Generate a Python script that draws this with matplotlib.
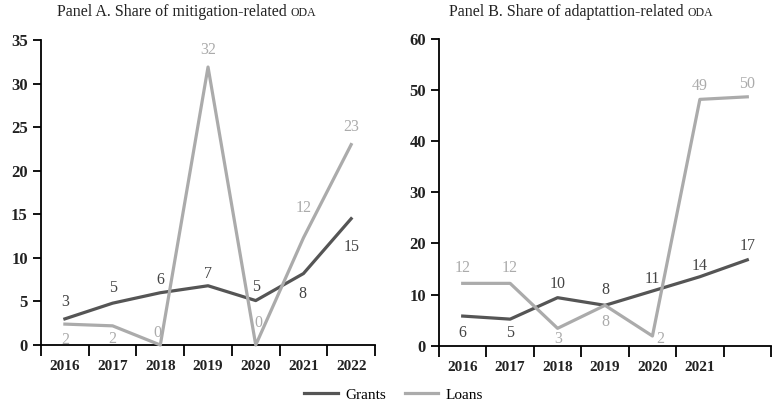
import matplotlib
matplotlib.use("Agg")
import matplotlib.pyplot as plt

plt.rcParams["font.family"] = ["Liberation Serif", "DejaVu Serif"]

years_a = ["2016", "2017", "2018", "2019", "2020", "2021", "2022"]
years_b = ["2016", "2017", "2018", "2019", "2020", "2021", ""]

grants_a = [3.0, 4.8, 6.0, 6.8, 5.1, 8.2, 14.5]
loans_a = [2.4, 2.2, 0.0, 31.9, 0.0, 12.3, 23.0]
grants_a_lbl = ["3", "5", "6", "7", "5", "8", "15"]
loans_a_lbl = ["2", "2", "0", "32", "0", "12", "23"]

grants_b = [5.8, 5.2, 9.4, 7.9, 10.7, 13.5, 16.8]
loans_b = [12.2, 12.2, 3.4, 7.9, 1.9, 48.2, 48.7]
grants_b_lbl = ["6", "5", "10", "8", "11", "14", "17"]
loans_b_lbl = ["12", "12", "3", "8", "2", "49", "50"]

DARK = "#555555"
LIGHT = "#ababab"

# label offsets in pixels (dx, dy)
off_grants_a = [(0, 17), (0, 15), (0, 13), (0, 12), (0, 14), (-1, -20), (0, -28)]
off_loans_a = [(0, -16), (0, -13), (-3, 12), (0, 17), (3, 22), (0, 30), (0, 18)]
off_grants_b = [(0, -17), (0, -14), (0, 14), (0, 15), (0, 12), (0, 11), (0, 14)]
off_loans_b = [(0, 15), (0, 15), (1, -11), (0, -17), (8, -3), (0, 13), (0, 13)]


def style_axis(ax, labels, ymax, ystep):
    n = len(labels)
    ax.set_xlim(-0.5, n - 0.5)
    ax.set_ylim(0, ymax)
    ax.set_xticks([i - 0.5 for i in range(n + 1)])
    ax.set_xticklabels([])
    ax.set_xticks(range(n), minor=True)
    ax.set_xticklabels(labels, minor=True, fontsize=11, fontweight="semibold",
                       color="#222222")
    ax.tick_params(axis="x", which="major", direction="out", length=8, width=1.3)
    ax.tick_params(axis="x", which="minor", length=0, pad=11)
    ax.set_yticks(range(0, ymax + 1, ystep))
    ax.tick_params(axis="y", direction="out", length=6, width=1.3, labelsize=12)
    for t in ax.get_yticklabels():
        t.set_fontweight("semibold")
        t.set_color("#222222")
    for s in ("top", "right"):
        ax.spines[s].set_visible(False)
    for s in ("left", "bottom"):
        ax.spines[s].set_linewidth(1.3)
    ax.spines["bottom"].set_zorder(1)


def label_points(ax, vals, lbls, offs, color):
    for i, (v, l, o) in enumerate(zip(vals, lbls, offs)):
        ax.annotate(l, xy=(i, v), xytext=o, textcoords="offset pixels",
                    ha="center", va="center", fontsize=11.5, color=color)


fig = plt.figure(figsize=(7.8, 4.07), dpi=100)
ax_a = fig.add_axes([0.0526, 0.1523, 0.4282, 0.7494])
ax_b = fig.add_axes([0.5628, 0.1506, 0.4257, 0.7534])

x = range(len(years_a))
ax_a.plot(x, grants_a, color=DARK, lw=2.3, label="Grants", clip_on=False, zorder=3)
ax_a.plot(x, loans_a, color=LIGHT, lw=2.3, label="Loans", clip_on=False, zorder=4)
style_axis(ax_a, years_a, 35, 5)
label_points(ax_a, grants_a, grants_a_lbl, off_grants_a, "#444444")
label_points(ax_a, loans_a, loans_a_lbl, off_loans_a, LIGHT)

ax_b.plot(x, grants_b, color=DARK, lw=2.3, clip_on=False, zorder=3)
ax_b.plot(x, loans_b, color=LIGHT, lw=2.3, clip_on=False, zorder=4)
style_axis(ax_b, years_b, 60, 10)
label_points(ax_b, grants_b, grants_b_lbl, off_grants_b, "#444444")
label_points(ax_b, loans_b, loans_b_lbl, off_loans_b, LIGHT)

# titles with small-caps style "ODA"
for xpos, txt in ((0.373, "Panel A. Share of mitigation-related "),
                  (0.882, "Panel B. Share of adaptattion-related ")):
    fig.text(xpos, 0.97, txt, ha="right", va="center", fontsize=11.5,
             color="#222222")
    fig.text(xpos, 0.968, "ODA", ha="left", va="center", fontsize=8.5,
             color="#222222")

fig.legend(loc="center", bbox_to_anchor=(0.505, 0.03), ncol=2, frameon=False,
           fontsize=11, handlelength=2.2, handletextpad=0.5, columnspacing=1.2)

fig.savefig("out.png", dpi=100)
